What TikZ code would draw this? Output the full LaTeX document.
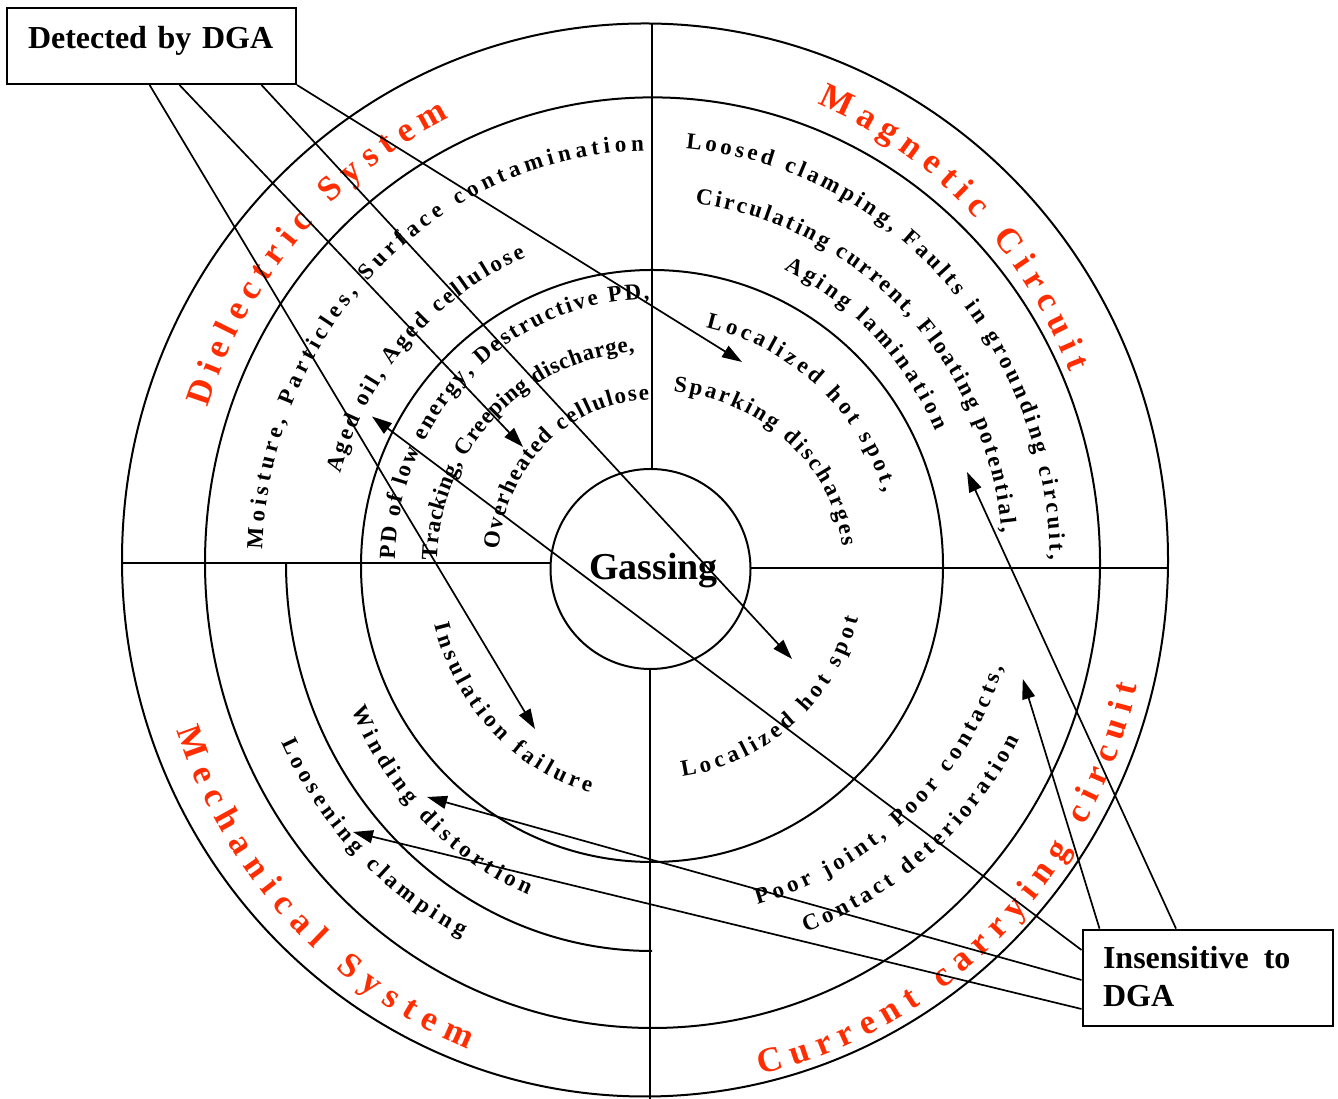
\documentclass[tikz,border=0pt]{standalone}
\usepackage{fontspec}
\setmainfont{Liberation Serif}
\newfontfamily\tnr{Liberation Serif}
\usetikzlibrary{decorations.text,arrows.meta}
\definecolor{titlered}{RGB}{255,45,0}
\newcommand{\curvefont}{\tnr\bfseries\fontsize{23}{23}\selectfont}
\newcommand{\titlefont}{\tnr\bfseries\fontsize{35}{35}\selectfont}
\newcommand{\arctext}[7]{%
  \path[decorate,decoration={text along path,text={|#1|#7},text align=fit to path,text color=#2}]
    (651,534) ++(#3:#5pt and #6pt) arc[start angle=#3,end angle=#4,x radius=#5pt,y radius=#6pt];}
\tikzset{
  ring/.style={line width=2pt},
  conn/.style={line width=1.7pt,-{Triangle[length=20pt,width=13pt]}},
  labelbox/.style={draw,line width=2pt,inner ysep=0pt,align=left,anchor=north west,
    font=\tnr\bfseries\fontsize{32}{38}\selectfont},
}
\begin{document}
\begin{tikzpicture}[x=1pt,y=1pt]
\fill[white] (0,0) rectangle (1338,1099);
\useasboundingbox (0,0) rectangle (1338,1099);
% rings
\draw[ring] (645,539) ellipse[x radius=523pt,y radius=536.5pt];
\draw[ring] (652.5,536.3) ellipse[x radius=447.5pt,y radius=465.3pt];
\draw[ring] (652,533) ellipse[x radius=291pt,y radius=296pt];
\draw[ring] (286,536) arc[start angle=180,end angle=270,x radius=366pt,y radius=388pt];
% quadrant lines
\draw[ring] (122,536) -- (550.5,536);
\draw[ring] (750.5,530.5) -- (1168,530.5);
\draw[ring] (651.6,1075.4) -- (651.6,629);
\draw[ring] (650,431) -- (650,0);
% centre
\node[draw,ring,circle,minimum size=200pt,inner sep=0pt] (gascircle) at (650.5,530) {};
\node[font=\tnr\bfseries\fontsize{38}{38}\selectfont,anchor=base] (gas) at (653.5,519) {Gassing};
% titles
\arctext{\titlefont}{titlered}{161.5}{115.5}{468}{495}{Dielectric System}
\arctext{\titlefont}{titlered}{68.6}{22.9}{455}{495}{Magnetic Circuit}
\arctext{\titlefont}{titlered}{198.6}{248.5}{500}{520}{Mechanical System}
\arctext{\titlefont}{titlered}{282.6}{346.7}{500}{522}{Current carrying circuit}
% upper left
\arctext{\curvefont}{black}{177.8}{91.1}{389}{414}{Moisture, Particles, Surface contamination}
\arctext{\curvefont}{black}{164.1}{112.8}{323}{334}{Aged oil, Aged cellulose}
\arctext{\curvefont}{black}{178.9}{90.4}{256}{266}{PD of low energy, Destructive PD,}
\arctext{\curvefont}{black}{178.7}{94.4}{214}{214}{Tracking, Creeping discharge,}
\arctext{\curvefont}{black}{174.7}{90.7}{153}{165}{Overheated cellulose}
% upper right
\arctext{\curvefont}{black}{85}{0.7}{399}{418}{Loosed clamping, Faults in grounding circuit,}
\arctext{\curvefont}{black}{82.8}{5.1}{352}{364}{Circulating current, Floating potential,}
\arctext{\curvefont}{black}{64.8}{24.2}{312}{327}{Aging lamination}
\arctext{\curvefont}{black}{77}{17.1}{244}{244}{Localized hot spot,}
\arctext{\curvefont}{black}{83.3}{6}{192}{175}{Sparking discharges}
% lower right
\arctext{\curvefont}{black}{278.4}{345.5}{214}{214}{Localized hot spot}
\arctext{\curvefont}{black}{286.8}{343.3}{368}{355}{Poor joint, Poor contacts,}
\arctext{\curvefont}{black}{292.2}{333.9}{410}{397}{Contact deterioration}
% lower left
\arctext{\curvefont}{black}{194.6}{254.2}{224}{237}{Insulation failure}
\arctext{\curvefont}{black}{204}{248}{328}{356}{Winding distortion}
\arctext{\curvefont}{black}{205}{242.4}{408}{420}{Loosening clamping}
% boxes
\node[labelbox,text width=247pt,inner xsep=21pt,text height=41pt,text depth=35pt] (dga) at (6,1092) {Detected by DGA};
\node[labelbox,text width=209.5pt,inner xsep=20.5pt,text height=39.4pt,text depth=57pt] (ins) at (1081.5,170.4) {Insensitive\hspace{15pt}to\\DGA};
% arrow targets
\coordinate (t1) at (535,370);
\coordinate (t2) at (523,652);
\coordinate (t3) at (792,440);
\coordinate (t4) at (742,737);
\coordinate (t5) at (1022.8,420);
\coordinate (t6) at (967,627);
\coordinate (t7) at (372,682.5);
\coordinate (t8) at (427,302);
\coordinate (t9) at (353,267);
% connectors
\draw[conn] ([xshift=143.6pt]dga.south west) -- (t1);
\draw[conn] ([xshift=173.5pt]dga.south west) -- (t2);
\draw[conn] ([xshift=255.5pt]dga.south west) -- (t3);
\draw[conn] (dga.south east) -- (t4);
\draw[conn] ([xshift=18pt]ins.north west) -- (t5);
\draw[conn] ([xshift=94.5pt]ins.north west) -- (t6);
\draw[conn] ([yshift=-21.4pt]ins.north west) -- (t7);
\draw[conn] ([yshift=-51.4pt]ins.north west) -- (t8);
\draw[conn] ([yshift=-80.4pt]ins.north west) -- (t9);
\end{tikzpicture}
\end{document}
